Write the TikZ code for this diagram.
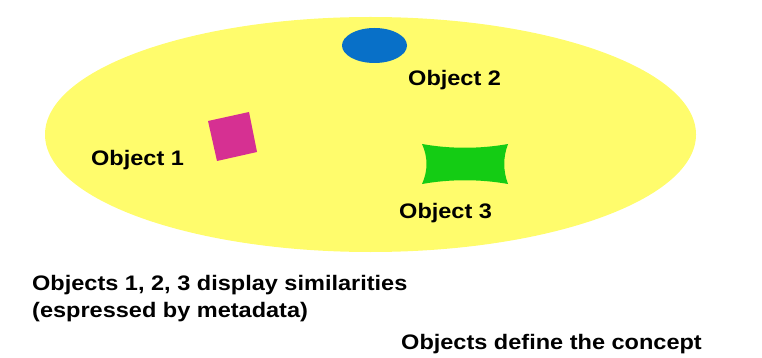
\documentclass[tikz,border=0pt]{standalone}
\usepackage{fontspec}
\setmainfont{Liberation Sans}[FakeStretch=1.12]
\definecolor{fieldyellow}{RGB}{255,252,108}
\definecolor{objblue}{RGB}{8,112,200}
\definecolor{objmagenta}{RGB}{214,48,146}
\definecolor{objgreen}{RGB}{20,204,20}
\tikzset{
  label/.style={anchor=base west, inner sep=0pt, font=\bfseries\fontsize{21}{25}\selectfont, text=black}
}
\begin{document}
\begin{tikzpicture}[x=1pt,y=-1pt]
  \useasboundingbox (0,0) rectangle (762,358);
  % the concept field
  \fill[fieldyellow] (370.5,134.5) ellipse [x radius=325.5, y radius=117.5];
  % object 2: blue ellipse
  \fill[objblue] (374.5,45.5) ellipse [x radius=32.5, y radius=17.5];
  % object 1: tilted magenta square
  \fill[objmagenta] (208,121) -- (249,112) -- (257,152) -- (217,161) -- cycle;
  % object 3: green shape with concave sides
  \fill[objgreen] (422,144) .. controls (450,149) and (480,149) .. (508,144)
    .. controls (503,157) and (503,171) .. (508,184)
    .. controls (480,179) and (450,179) .. (422,184)
    .. controls (428,171) and (428,157) .. cycle;
  % labels
  \node[label] (o2) at (408,86) {Object 2};
  \node[label] (o1) at (91,166) {Object 1};
  \node[label] (o3) at (399,218) {Object 3};
  \node[label] (sim) at (32,290) {Objects 1, 2, 3 display similarities};
  \node[label] (meta) at (32,317) {(espressed by metadata)};
  \node[label] (def) at (401,349) {Objects define the concept};
\end{tikzpicture}
\end{document}
